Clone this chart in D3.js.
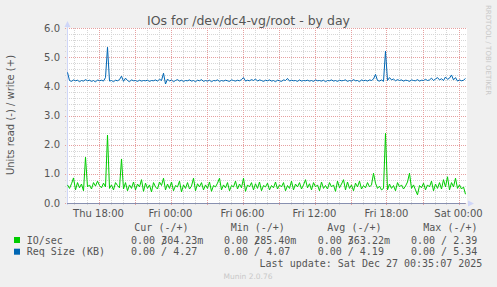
<!DOCTYPE html>
<html><head><meta charset="utf-8">
<script src="https://cdn.jsdelivr.net/npm/d3@7"></script>
<style>
html,body{margin:0;padding:0;background:#F0F0F0;}
svg{display:block;}
</style></head>
<body>
<script>
// ---- data ----
const startTime = new Date(2025, 11, 25, 15, 25); // first sample (10-min steps)
const stepMinutes = 10;
const ioPerSec = [
 0.62,0.5,0.66,0.86,0.45,0.7,0.52,0.65,0.42,1.57,
 0.55,0.62,0.48,0.7,0.58,0.75,0.6,0.52,0.68,0.55,
 2.33,0.5,0.62,0.45,0.7,0.6,0.52,1.51,0.48,0.7,
 0.42,0.62,0.5,0.72,0.45,0.65,0.55,0.8,0.4,0.68,
 0.5,0.62,0.38,0.7,0.55,0.48,0.72,0.6,0.85,0.45,
 0.65,0.5,0.72,0.42,0.6,0.55,0.75,0.38,0.62,0.5,
 0.7,0.48,0.58,0.85,0.42,0.66,0.55,0.7,0.45,0.62,
 0.5,0.72,0.4,0.6,0.55,0.68,0.85,0.45,0.62,0.52,
 0.7,0.42,0.6,0.55,0.75,0.48,0.65,0.52,0.85,0.4,
 0.62,0.55,0.7,0.45,0.66,0.5,0.72,0.42,0.6,0.55,
 0.68,0.45,0.6,0.52,0.72,0.48,0.62,0.55,0.7,0.42,
 0.6,0.5,0.75,0.45,0.65,0.55,0.7,0.48,0.62,0.8,
 0.52,0.66,0.45,0.7,0.55,0.62,0.42,0.72,0.5,0.6,
 0.48,0.7,0.55,0.62,0.4,0.75,0.52,0.65,0.8,0.45,
 0.72,0.5,0.62,0.42,0.68,0.55,0.75,0.48,0.6,0.52,
 0.7,0.55,0.62,1.02,0.68,0.5,0.58,0.45,0.5,2.39,
 0.45,0.65,0.5,0.6,0.42,0.7,0.55,0.62,0.48,0.58,
 0.72,1.02,0.5,0.62,0.45,0.28,0.6,0.52,0.68,0.45,
 0.62,0.55,0.75,0.42,0.65,0.5,0.7,0.48,0.8,0.55,
 0.9,0.45,0.7,0.55,0.85,0.5,0.62,0.48,0.55,0.3
];
const reqSizeKB = [
 4.48,4.2,4.17,4.22,4.19,4.21,4.16,4.2,4.18,4.23,
 4.19,4.21,4.17,4.2,4.15,4.22,4.19,4.21,4.18,4.3,
 5.34,4.18,4.2,4.16,4.21,4.19,4.23,4.35,4.17,4.28,
 4.2,4.16,4.22,4.19,4.2,4.17,4.21,4.18,4.2,4.19,
 4.21,4.17,4.2,4.19,4.22,4.18,4.24,4.2,4.45,4.08,
 4.25,4.18,4.22,4.16,4.2,4.23,4.18,4.21,4.17,4.2,
 4.19,4.22,4.18,4.2,4.16,4.21,4.19,4.23,4.17,4.2,
 4.18,4.21,4.16,4.2,4.19,4.22,4.17,4.2,4.18,4.21,
 4.19,4.17,4.22,4.2,4.18,4.21,4.19,4.23,4.3,4.18,
 4.21,4.19,4.23,4.2,4.25,4.18,4.22,4.2,4.17,4.21,
 4.19,4.22,4.18,4.2,4.16,4.21,4.19,4.17,4.22,4.2,
 4.27,4.18,4.21,4.19,4.2,4.17,4.22,4.18,4.2,4.19,
 4.21,4.18,4.2,4.17,4.22,4.19,4.2,4.18,4.21,4.16,
 4.2,4.19,4.22,4.18,4.2,4.17,4.21,4.19,4.2,4.22,
 4.17,4.2,4.18,4.23,4.19,4.2,4.16,4.22,4.19,4.21,
 4.18,4.22,4.2,4.25,4.41,4.2,4.18,4.22,4.17,5.21,
 4.2,4.3,4.22,4.25,4.19,4.23,4.2,4.22,4.18,4.21,
 4.2,4.17,4.22,4.2,4.19,4.23,4.18,4.21,4.2,4.24,
 4.2,4.22,4.28,4.2,4.25,4.3,4.22,4.26,4.2,4.32,
 4.24,4.28,4.39,4.22,4.3,4.18,4.22,4.19,4.21,4.27
];
const yTicks = [0,1,2,3,4,5,6];
const yTickLabels = ["0.0","1.0","2.0","3.0","4.0","5.0","6.0"];
const xTickTimes = [new Date(2025,11,25,18,0), new Date(2025,11,26,0,0), new Date(2025,11,26,6,0),
                    new Date(2025,11,26,12,0), new Date(2025,11,26,18,0), new Date(2025,11,27,0,0)];
const xTickLabels = ["Thu 18:00","Fri 00:00","Fri 06:00","Fri 12:00","Fri 18:00","Sat 00:00"];
const title = "IOs for /dev/dc4-vg/root - by day";
const yAxisTitle = "Units read (-) / write (+)";
const legendNames = ["IO/sec","Req Size (KB)"];
const legendColors = ["#00CC00","#0066B3"];
const legendHeaders = ["Cur (-/+)","Min (-/+)","Avg (-/+)","Max (-/+)"];
const legendIO = [["0.00 /","304.23m"],["0.00 /","285.40m"],["0.00 /","363.22m"],["0.00 / 2.39",""]];
const legendReq = ["0.00 / 4.27","0.00 / 4.07","0.00 / 4.19","0.00 / 5.34"];
const lastUpdate = "Last update: Sat Dec 27 00:35:07 2025";
const muninVersion = "Munin 2.0.76";
const watermark = "RRDTOOL / TOBI OETIKER";

// ---- layout ----
const W = 497, H = 287;
const pL = 67, pR = 467, pT = 28, pB = 203;
const domainStart = new Date(2025,11,25,15,22,30);
const domainEnd = new Date(2025,11,27,0,42,30);

const svg = d3.select("body").append("svg").attr("width", W).attr("height", H);
svg.append("rect").attr("width", W).attr("height", H).attr("fill", "#F0F0F0");
svg.append("rect").attr("x", pL).attr("y", pT).attr("width", pR-pL).attr("height", pB-pT).attr("fill", "#FFFFFF");

const x = d3.scaleTime().domain([domainStart, domainEnd]).range([pL, pR]);
const y = d3.scaleLinear().domain([0, 6]).range([pB, pT]);

const times = ioPerSec.map((_, i) => d3.timeMinute.offset(startTime, i*stepMinutes));

// grid
const minorH = d3.range(0, 30).map(i => i*0.2).filter(v => Math.abs(v - Math.round(v)) > 1e-6);
const g = svg.append("g");
minorH.forEach(v => {
  const yy = Math.round(y(v)) + 0.5;
  g.append("line").attr("x1", pL-2).attr("x2", pR).attr("y1", yy).attr("y2", yy)
    .attr("stroke", "#d6d6d6").attr("stroke-dasharray", "1,1");
});
const hours = d3.timeHour.range(domainStart, domainEnd);
hours.forEach(h => {
  const major = h.getHours() % 3 === 0;
  const xx = Math.round(x(h)) + 0.5;
  g.append("line").attr("x1", xx).attr("x2", xx).attr("y1", pT).attr("y2", pB+2)
    .attr("stroke", major ? "#e6a0a0" : "#d6d6d6").attr("stroke-dasharray", "1,1");
});
yTicks.forEach(v => {
  const yy = Math.round(y(v)) + 0.5;
  g.append("line").attr("x1", pL-2).attr("x2", pR).attr("y1", yy).attr("y2", yy)
    .attr("stroke", "#e6a0a0").attr("stroke-dasharray", "1,1");
});

// axes
const axisColor = "#CFD6F8";
svg.append("line").attr("x1", pL+0.5).attr("x2", pL+0.5).attr("y1", pT-4).attr("y2", pB+2).attr("stroke", axisColor);
svg.append("path").attr("d", `M${pL-2.5},${pT-1} L${pL+0.5},${pT-7} L${pL+3.5},${pT-1} Z`).attr("fill", axisColor);
svg.append("path").attr("d", `M${pR+1},${pB-2.5} L${pR+7},${pB+0.5} L${pR+1},${pB+3.5} Z`).attr("fill", axisColor);

// y labels
svg.append("g").selectAll("text").data(yTicks).join("text")
  .attr("x", 60).attr("y", d => y(d) + 3.5).attr("text-anchor", "end")
  .attr("font-family", "DejaVu Sans").attr("font-size", 10).attr("fill", "#555")
  .text((d, i) => yTickLabels[i]);
// x labels
svg.append("g").selectAll("text").data(xTickTimes).join("text")
  .attr("x", d => x(d)).attr("y", 216.5).attr("text-anchor", "middle")
  .attr("font-family", "DejaVu Sans").attr("font-size", 10).attr("fill", "#555")
  .text((d, i) => xTickLabels[i]);

// lines
const line = d3.line().x((d, i) => x(times[i])).y(d => y(d));
svg.append("path").datum(ioPerSec).attr("d", line).attr("fill", "none").attr("stroke", legendColors[0]).attr("stroke-width", 1);
svg.append("path").datum(reqSizeKB).attr("d", line).attr("fill", "none").attr("stroke", legendColors[1]).attr("stroke-width", 1);
// zero (read) line
svg.append("line").attr("x1", pL).attr("x2", x(times[times.length-1])).attr("y1", pB+0.5).attr("y2", pB+0.5)
  .attr("stroke", "#8890b0");

// title
svg.append("text").attr("x", 248.5).attr("y", 24.5).attr("text-anchor", "middle")
  .attr("font-family", "DejaVu Sans").attr("font-size", 12.5).attr("fill", "#555").text(title);
// y title
svg.append("text").attr("transform", "translate(14,115) rotate(-90)").attr("text-anchor", "middle")
  .attr("font-family", "DejaVu Sans").attr("font-size", 10).attr("fill", "#555").text(yAxisTitle);
// watermark
svg.append("text").attr("transform", "translate(485.5,5) rotate(90)")
  .attr("font-family", "DejaVu Sans").attr("font-size", 7).attr("fill", "#c8c8c8").text(watermark);

// legend
const mono = "DejaVu Sans Mono";
const colX = [131, 224, 317.7, 411];
const headX = [134.3, 230.7, 327.3, 423.3];
svg.append("g").selectAll("text").data(legendHeaders).join("text")
  .attr("x", (d, i) => headX[i]).attr("y", 231).attr("font-family", mono).attr("font-size", 10).attr("fill", "#555")
  .attr("xml:space", "preserve").text(d => d);
[0, 1].forEach(r => {
  const yy = r === 0 ? 243.5 : 255.2;
  svg.append("rect").attr("x", 14).attr("y", yy - 6.5).attr("width", 6).attr("height", 6).attr("fill", legendColors[r]);
  svg.append("text").attr("x", 26.7).attr("y", yy).attr("font-family", mono).attr("font-size", 10).attr("fill", "#555").text(legendNames[r]);
});
legendIO.forEach((p, i) => {
  svg.append("text").attr("x", colX[i]).attr("y", 243.5).attr("font-family", mono).attr("font-size", 10).attr("fill", "#555")
    .attr("xml:space", "preserve").text(p[0]);
  if (p[1]) {
    svg.append("text").attr("x", colX[i] + 72.3).attr("y", 243.5).attr("text-anchor", "end").attr("font-family", mono).attr("font-size", 10).attr("fill", "#555").text(p[1]);
  }
});
legendReq.forEach((t, i) => {
  svg.append("text").attr("x", colX[i]).attr("y", 255.2).attr("font-family", mono).attr("font-size", 10).attr("fill", "#555")
    .attr("xml:space", "preserve").text(t);
});
svg.append("text").attr("x", 482.3).attr("y", 267).attr("text-anchor", "end").attr("font-family", mono).attr("font-size", 10).attr("fill", "#555").text(lastUpdate);
svg.append("text").attr("x", 248).attr("y", 279).attr("text-anchor", "middle").attr("font-family", "DejaVu Sans").attr("font-size", 7.5).attr("fill", "#c8c8c8").text(muninVersion);
</script>
</body></html>
